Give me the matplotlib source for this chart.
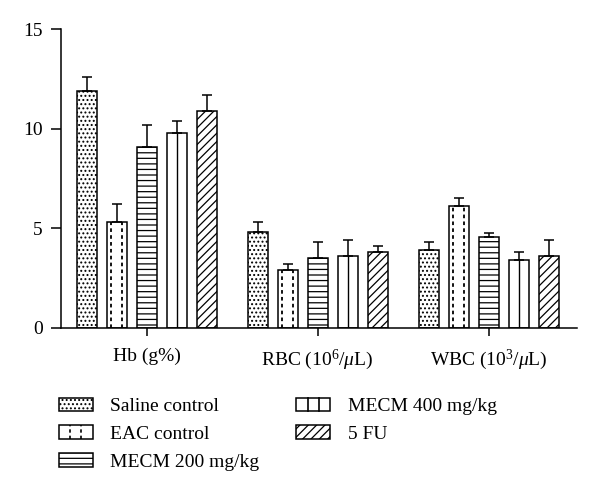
"""
Haematological parameters (Hb, RBC, WBC) per treatment group
"""

#%% Imports
import numpy as np
import matplotlib
matplotlib.use('Agg')
import matplotlib.pyplot as plt
from matplotlib.patches import Patch, Rectangle
from matplotlib.lines import Line2D
from matplotlib.legend_handler import HandlerPatch

#%% Data
groups = ['Hb (g%)', 'RBC (10$^6$/$\\mu$L)', 'WBC (10$^3$/$\\mu$L)']
treatments = ['Saline control', 'EAC control', 'MECM 200 mg/kg', 'MECM 400 mg/kg', '5 FU']

saline = [11.9, 4.8, 3.9]
eac = [5.3, 2.9, 6.1]
mecm200 = [9.1, 3.5, 4.55]
mecm400 = [9.8, 3.6, 3.4]
fu5 = [10.9, 3.8, 3.6]

saline_err = [0.7, 0.5, 0.4]
eac_err = [0.9, 0.3, 0.4]
mecm200_err = [1.1, 0.8, 0.2]
mecm400_err = [0.6, 0.8, 0.4]
fu5_err = [0.8, 0.3, 0.8]

means = [saline, eac, mecm200, mecm400, fu5]
errors = [saline_err, eac_err, mecm200_err, mecm400_err, fu5_err]
hatches = ['....', '', '---', '', '////']

#%% Style
plt.rcParams['font.family'] = ['Liberation Serif', 'DejaVu Serif']
plt.rcParams['mathtext.fontset'] = 'custom'
plt.rcParams['mathtext.rm'] = 'Liberation Serif'
plt.rcParams['mathtext.it'] = 'Liberation Serif:italic'
plt.rcParams['hatch.linewidth'] = 0.9
plt.rcParams['font.size'] = 14


class LinesHandler(HandlerPatch):
    """Legend box with vertical (optionally dashed) lines inside."""

    def __init__(self, fracs, ls):
        super().__init__()
        self.fracs = fracs
        self.ls = ls

    def create_artists(self, legend, orig_handle, xdescent, ydescent,
                       width, height, fontsize, trans):
        x0, y0 = -xdescent, -ydescent
        arts = [Rectangle((x0, y0), width, height, fc='white', ec='black',
                          lw=1.1, transform=trans)]
        for f in self.fracs:
            x = x0 + f * width
            arts.append(Line2D([x, x], [y0, y0 + height], color='black',
                               lw=1.2, ls=self.ls, transform=trans))
        return arts


#%% Plot
fig = plt.figure(figsize=(6, 4.94), dpi=100)
ax = fig.add_axes([0.1017, 0.3366, 0.86, 0.6041])

centers = np.arange(len(groups)) * 5.7
width = 0.667
dash = (0, (2.0, 1.8))

for k, (m, e) in enumerate(zip(means, errors)):
    x = centers + (k - 2)
    bars = ax.bar(x, m, width, color='white', edgecolor='black',
                  linewidth=1.1, hatch=hatches[k])
    if k == 1:
        # EAC control: two dashed vertical lines inside each bar
        for b in bars:
            bx, bw, bh = b.get_x(), b.get_width(), b.get_height()
            ax.vlines([bx + 0.22 * bw, bx + 0.78 * bw], 0, bh,
                      colors='black', lw=1.3, linestyles=[dash])
    if k == 3:
        # MECM 400: single vertical line through the middle
        for b in bars:
            ax.vlines(b.get_x() + b.get_width() / 2, 0, b.get_height(),
                      colors='black', lw=1.0)
    ax.errorbar(x, m, yerr=[np.zeros(len(m)), e], fmt='none', ecolor='black',
                elinewidth=1.1, capsize=3.6, capthick=1.1)

ax.set_xlim(-2.85, 14.35)
ax.set_ylim(0, 15)
ax.set_yticks([0, 5, 10, 15])
ax.set_xticks(centers)
ax.set_xticklabels(groups)
for s in ['top', 'right']:
    ax.spines[s].set_visible(False)
for s in ['left', 'bottom']:
    ax.spines[s].set_linewidth(1.1)
ax.tick_params(axis='y', length=7.2, width=1.1, pad=6)
ax.tick_params(axis='x', length=5.5, width=1.1, pad=9)

#%% Legend
handles = [Patch(fc='white', ec='black', hatch=h, lw=1.1) for h in hatches]
hmap = {handles[1]: LinesHandler([1 / 3, 2 / 3], dash),
        handles[3]: LinesHandler([1 / 3, 2 / 3], '-')}
fig.legend(handles, treatments, handler_map=hmap, ncol=2, frameon=False,
           loc='upper left', bbox_to_anchor=(0.098, 0.195),
           handlelength=1.75, handleheight=0.7, handletextpad=0.9,
           labelspacing=0.52, columnspacing=1.9, borderpad=0,
           borderaxespad=0, fontsize=14)

plt.savefig('out.png', dpi=100)
